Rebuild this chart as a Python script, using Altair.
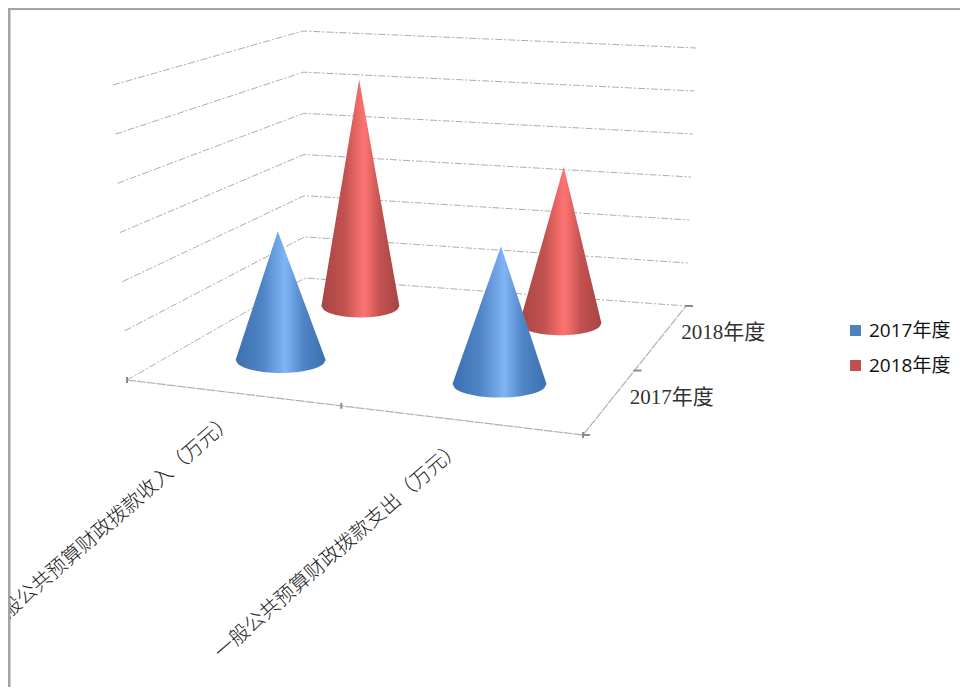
import altair as alt
import pandas as pd

categories = ["一般公共预算财政拨款收入（万元）", "一般公共预算财政拨款支出（万元）"]
series = ["2017年度", "2018年度"]
values_2017 = [2.71, 2.87]
values_2018 = [5.2, 3.53]
grid_levels = [0, 1, 2, 3, 4, 5, 6]

# Projection of the 3D box on to the picture (front/back, left/right, bottom/top)
FLOOR = {"FL": (127, 380), "FR": (583, 435), "BR": (686, 306), "BL": (305, 278)}
TOP = {"FL": (113, 85), "FR": (590, 135), "BR": (696, 48), "BL": (303, 31)}


def project(u, v, z):
    def bil(c):
        out = []
        for i in range(2):
            front = c["FL"][i] * (1 - u) + c["FR"][i] * u
            back = c["BL"][i] * (1 - u) + c["BR"][i] * u
            out.append(front * (1 - v) + back * v)
        return out
    a, b = bil(FLOOR), bil(TOP)
    t = z / 6
    return a[0] * (1 - t) + b[0] * t, a[1] * (1 - t) + b[1] * t


X = alt.X("px:Q", scale=alt.Scale(domain=[10, 960], nice=False, zero=False), axis=None)
Y = alt.Y("py:Q", scale=alt.Scale(domain=[8, 687], nice=False, zero=False, reverse=True), axis=None)
Y2 = alt.Y2("py2:Q")

# wall gridlines
rows = []
for lv in grid_levels:
    for k, (u, v) in enumerate([(0, 0), (0, 1), (1, 1)]):
        x, y = project(u, v, lv)
        rows.append({"px": x, "py": y, "lv": lv, "k": k})
grid = alt.Chart(pd.DataFrame(rows)).mark_line(
    color="#adadad", strokeWidth=1, strokeDash=[7, 2, 2, 2]
).encode(x=X, y=Y, detail="lv:N", order="k:Q")

# floor edges
rows = []
for k, (u, v) in enumerate([(0, 0), (1, 0), (1, 1)]):
    x, y = project(u, v, 0)
    rows.append({"px": x, "py": y, "k": k})
floor = alt.Chart(pd.DataFrame(rows)).mark_line(
    color="#b0b0b0", strokeWidth=1.2, strokeDash=[9, 1]
).encode(x=X, y=Y, order="k:Q")

# axis tick marks
rows = []
for i, u in enumerate([0, 0.47, 1]):
    x, y = project(u, 0, 0)
    rows.append({"px": x, "py": y - 3, "g": f"c{i}", "k": 0})
    rows.append({"px": x, "py": y + 3, "g": f"c{i}", "k": 1})
for i, v in enumerate([0, 0.5, 1]):
    x, y = project(1, v, 0)
    rows.append({"px": x - 1, "py": y, "g": f"s{i}", "k": 0})
    rows.append({"px": x + 7, "py": y, "g": f"s{i}", "k": 1})
ticks = alt.Chart(pd.DataFrame(rows)).mark_line(color="#8c8c8c", strokeWidth=2).encode(
    x=X, y=Y, detail="g:N", order="k:Q"
)


# cones
def cone_rows(ci, si, val):
    u = 0.25 + 0.5 * ci
    v = 0.25 + 0.5 * si
    cx, cy = project(u, v, 0.14)
    ax, ay = project(u, v, val + 0.14)
    rx = 45 + 2 * ci - 6 * si
    ry = rx * 0.29
    out = []
    n = 40
    xs = sorted({cx - rx + 2 * rx * i / n for i in range(n + 1)} | {ax})
    for x in xs:
        t = max(-1, min(1, (x - cx) / rx))
        lo = cy + ry * (1 - t * t) ** 0.5
        if x <= ax:
            hi = cy + (ay - cy) * (x - (cx - rx)) / (ax - (cx - rx))
        else:
            hi = cy + (ay - cy) * ((cx + rx) - x) / ((cx + rx) - ax)
        out.append({"px": x, "py": hi, "py2": lo, "cat": categories[ci], "ser": series[si]})
    return out


def cone_layer(si, vals, edge, mid, center):
    rows = []
    for ci, val in enumerate(vals):
        rows += cone_rows(ci, si, val)
    grad = alt.Gradient(
        gradient="linear", x1=0, x2=1, y1=0, y2=0,
        stops=[
            alt.GradientStop(offset=0, color=edge),
            alt.GradientStop(offset=0.3, color=mid),
            alt.GradientStop(offset=0.55, color=center),
            alt.GradientStop(offset=0.75, color=mid),
            alt.GradientStop(offset=1, color=edge),
        ],
    )
    return alt.Chart(pd.DataFrame(rows)).mark_area(fill=grad, interpolate="linear").encode(
        x=X, y=Y, y2=Y2, detail="cat:N"
    )


red = cone_layer(1, values_2018, "#a64543", "#c25250", "#ff7472")
blue = cone_layer(0, values_2017, "#3c70b0", "#4f84c6", "#80b4f5")

# category labels
rows = []
for ci, name in enumerate(categories):
    x, y = project(0.25 + 0.5 * ci, 0, 0)
    rows.append({"px": x - 10, "py": y + 24, "t": name})
cat_labels = alt.Chart(pd.DataFrame(rows)).mark_text(
    align="right", baseline="middle", angle=319, fontSize=20,
    font="Noto Sans CJK SC", fontWeight=300, color="#222222", clip=True,
).encode(x=X, y=Y, text="t:N")

# depth labels
rows = []
for si, name in enumerate(series):
    x, y = project(1, 0.25 + 0.5 * si, 0)
    rows.append({"px": x + 21, "py": y - 5, "t": name})
ser_labels = alt.Chart(pd.DataFrame(rows)).mark_text(
    align="left", baseline="middle", fontSize=21,
    font="Liberation Serif, Noto Sans CJK SC", color="#333333",
).encode(x=X, y=Y, text="t:N")

# legend
legend_df = pd.DataFrame({"px": [900, 900], "py": [330, 360], "ser": series})
legend = alt.Chart(legend_df).mark_point(filled=True, opacity=0, shape="square").encode(
    x=X, y=Y,
    color=alt.Color(
        "ser:N",
        scale=alt.Scale(domain=series, range=["#4f81bd", "#c0504d"]),
        legend=alt.Legend(
            orient="none", legendX=836, legendY=313, title=None,
            symbolType="square", symbolSize=120, symbolOpacity=1, symbolStrokeWidth=0,
            labelFont="Open Sans, Noto Sans CJK SC", labelFontSize=19, labelColor="#111111",
            labelOffset=4, rowPadding=15, labelLimit=200,
        ),
    ),
)

# outer frame
frame_left = alt.Chart(pd.DataFrame({"a": [0]})).mark_rule(color="#a3a3a3", strokeWidth=3).encode(
    x=alt.value(-1), y=alt.value(0), y2=alt.value(690)
)
frame_top = alt.Chart(pd.DataFrame({"a": [0]})).mark_rule(color="#a3a3a3", strokeWidth=3).encode(
    x=alt.value(-2), x2=alt.value(960), y=alt.value(0.5)
)

chart = alt.layer(
    frame_left, frame_top, grid, floor, ticks, red, blue, cat_labels, ser_labels, legend
).properties(
    width=950, height=679,
    autosize=alt.AutoSizeParams(type="none"),
    padding={"left": 2, "top": 0, "right": 0, "bottom": 0},
).configure_view(stroke=None)

chart.save("out.html", embed_options={"renderer": "svg", "actions": False})
